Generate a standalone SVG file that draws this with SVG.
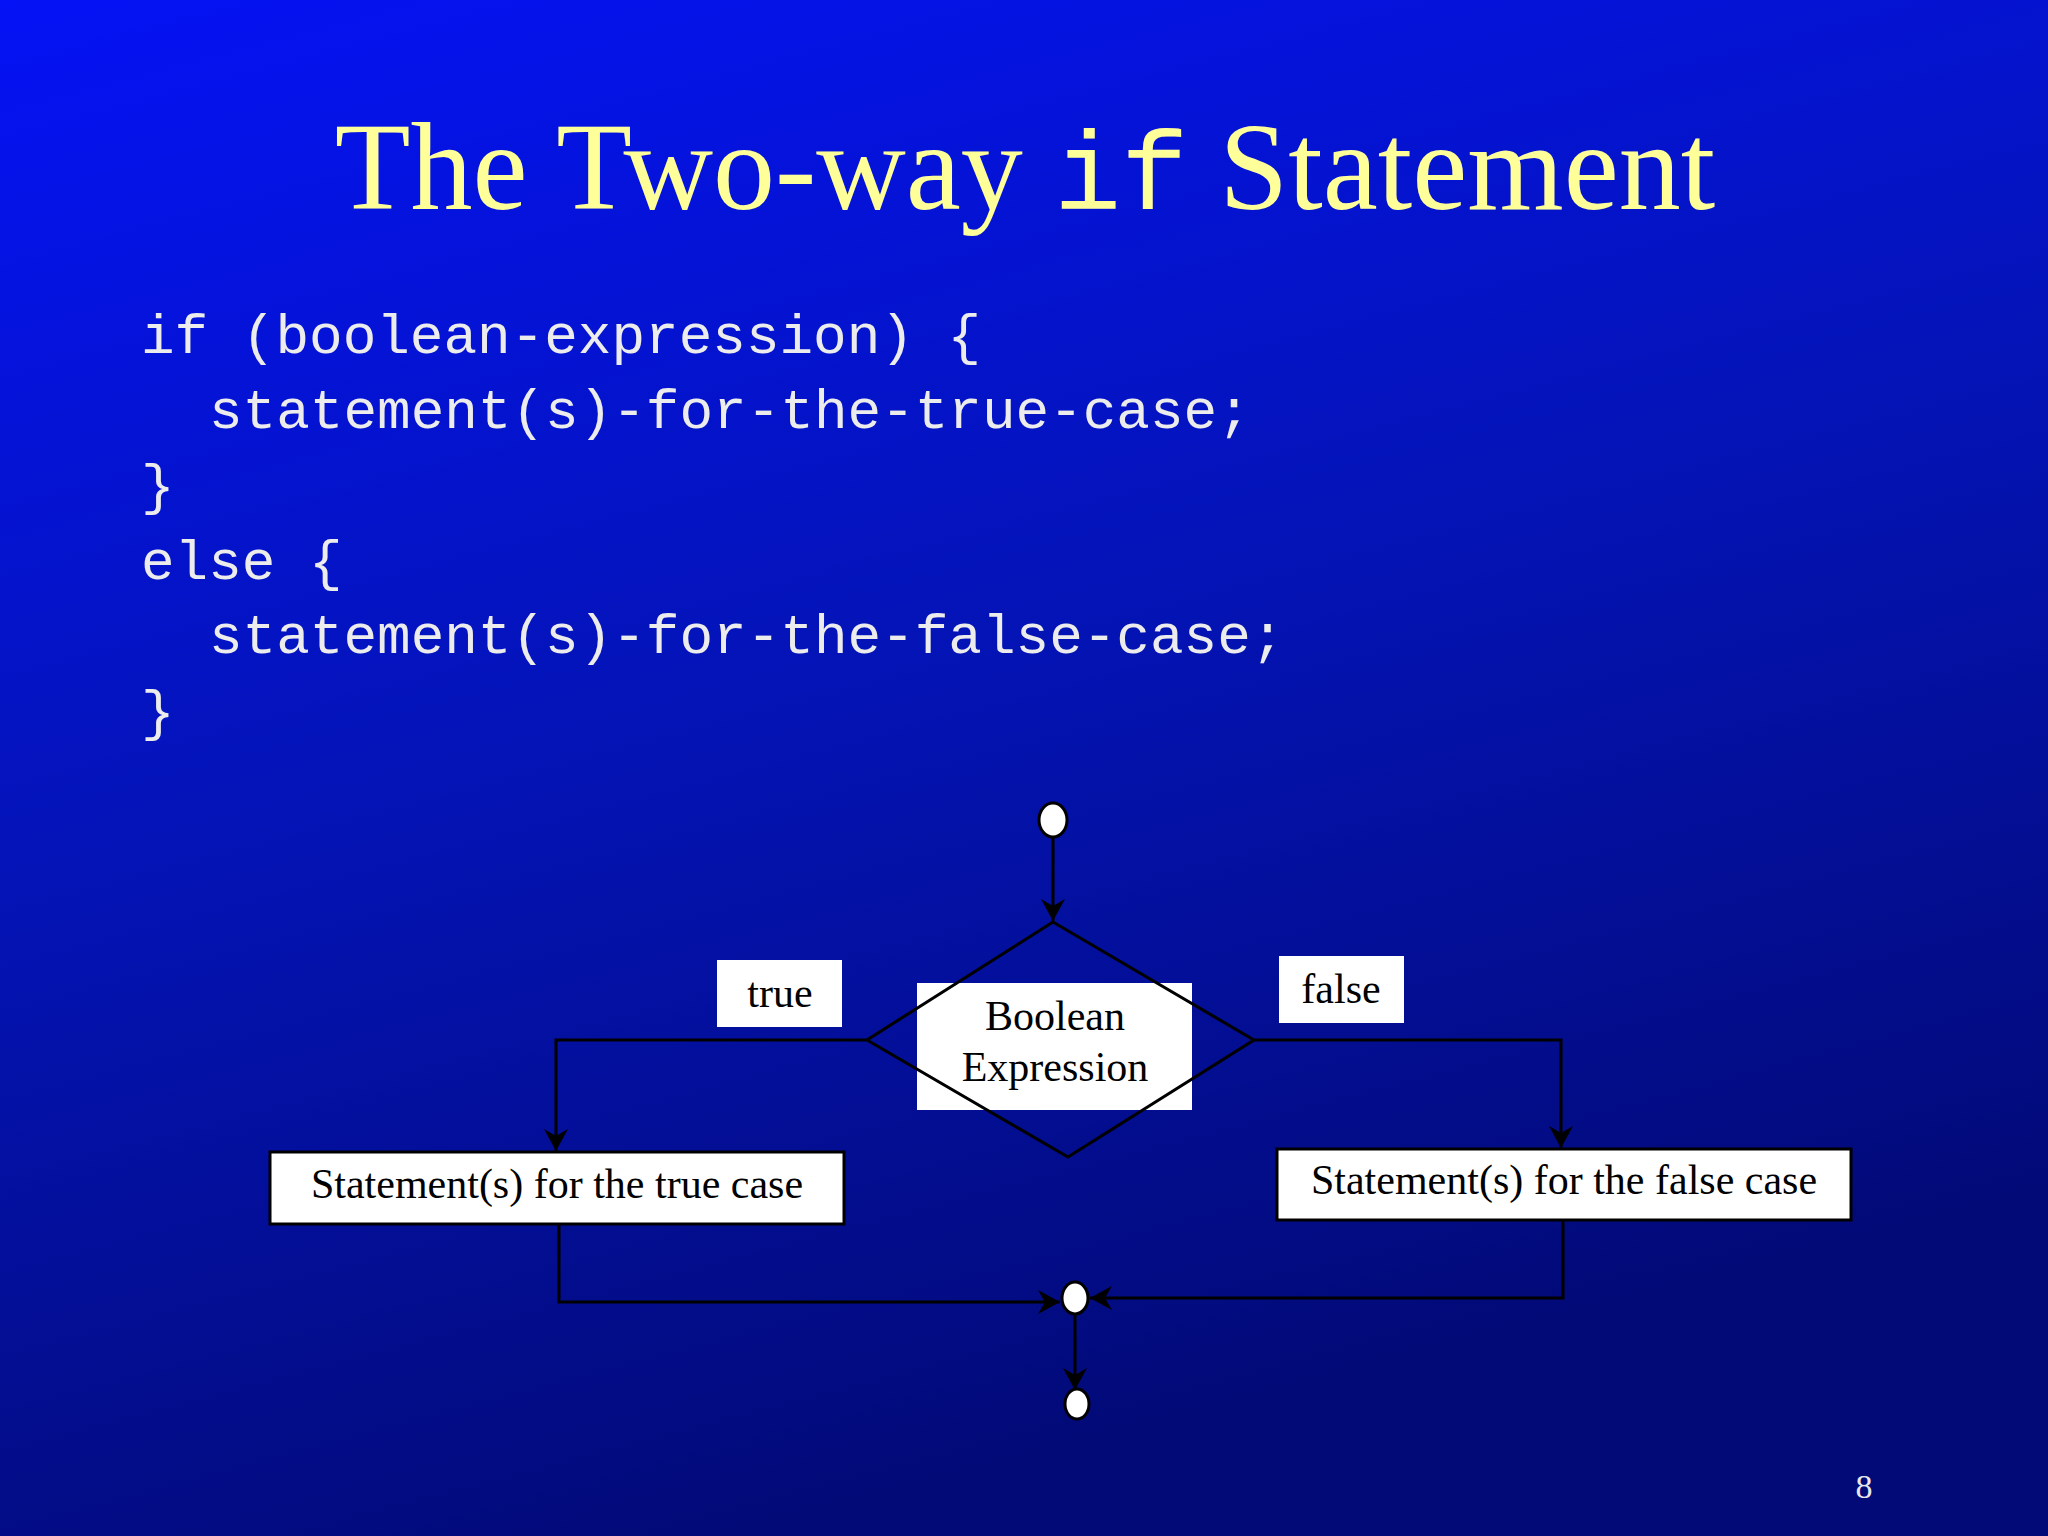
<svg xmlns="http://www.w3.org/2000/svg" width="2048" height="1536" viewBox="0 0 2048 1536">
<defs>
<linearGradient id="bg" x1="0" y1="0" x2="0.35" y2="1">
<stop offset="0" stop-color="#0512f5"/>
<stop offset="0.5" stop-color="#0414b8"/>
<stop offset="1" stop-color="#020a78"/>
</linearGradient>
<marker id="ah" markerWidth="24" markerHeight="24" refX="22" refY="12" orient="auto" markerUnits="userSpaceOnUse">
<path d="M0,0 L22,12 L0,24 L7,12 Z" fill="#000"/>
</marker>
<style>
.code{font-family:"Liberation Mono",monospace;font-size:56px;fill:#ececec}
.lbl{font-family:"Liberation Serif",serif;font-size:42px;fill:#000;text-anchor:middle}
.box{fill:#fff;stroke:#000;stroke-width:3}
.wb{fill:#fff}
.ln{fill:none;stroke:#000;stroke-width:3}
.ci{fill:#fff;stroke:#000;stroke-width:3}
</style>
</defs>
<rect width="2048" height="1536" fill="url(#bg)"/>
<text x="1025" y="209" font-family="Liberation Serif,serif" font-size="124" fill="#ffff99" text-anchor="middle" xml:space="preserve">The Two-way <tspan font-family="Liberation Mono,monospace" font-size="112">if</tspan> Statement</text>
<g id="code">
<text class="code" x="141" y="353">if (boolean-expression) {</text>
<text class="code" x="209" y="428">statement(s)-for-the-true-case;</text>
<text class="code" x="141" y="503">}</text>
<text class="code" x="141" y="579">else {</text>
<text class="code" x="209" y="653">statement(s)-for-the-false-case;</text>
<text class="code" x="141" y="729">}</text>
</g>
<g id="start"><ellipse class="ci" cx="1053" cy="820" rx="14" ry="17"/></g>
<g id="cond">
<rect class="wb" x="917" y="983" width="275" height="127"/>
<path class="ln" d="M1053,922 L1254,1040 L1068,1157 L867,1040 Z"/>
<text class="lbl" x="1055" y="1030">Boolean</text>
<text class="lbl" x="1055" y="1081">Expression</text>
</g>
<g id="true"><rect class="wb" x="717" y="960" width="125" height="67"/><text class="lbl" x="780" y="1007">true</text></g>
<g id="false"><rect class="wb" x="1279" y="956" width="125" height="67"/><text class="lbl" x="1341" y="1003">false</text></g>
<g id="stTrue"><rect class="box" x="270" y="1152" width="574" height="72"/><text class="lbl" x="557" y="1198">Statement(s) for the true case</text></g>
<g id="stFalse"><rect class="box" x="1277" y="1149" width="574" height="71"/><text class="lbl" x="1564" y="1194">Statement(s) for the false case</text></g>
<g id="merge"><ellipse class="ci" cx="1075" cy="1298" rx="13" ry="16"/></g>
<g id="end"><ellipse class="ci" cx="1077" cy="1404" rx="12" ry="15"/></g>
<g id="connectors">
<path class="ln" d="M1053,837 L1053,921" marker-end="url(#ah)"/>
<path class="ln" d="M867,1040 L556,1040 L556,1151" marker-end="url(#ah)"/>
<path class="ln" d="M1254,1040 L1561,1040 L1561,1148" marker-end="url(#ah)"/>
<path class="ln" d="M559,1224 L559,1302 L1060,1302" marker-end="url(#ah)"/>
<path class="ln" d="M1563,1220 L1563,1298 L1090,1298" marker-end="url(#ah)"/>
<path class="ln" d="M1075,1314 L1075,1390" marker-end="url(#ah)"/>
</g>
<text x="1864" y="1498" font-family="Liberation Serif,serif" font-size="34" fill="#e8e8e8" text-anchor="middle">8</text>
</svg>
